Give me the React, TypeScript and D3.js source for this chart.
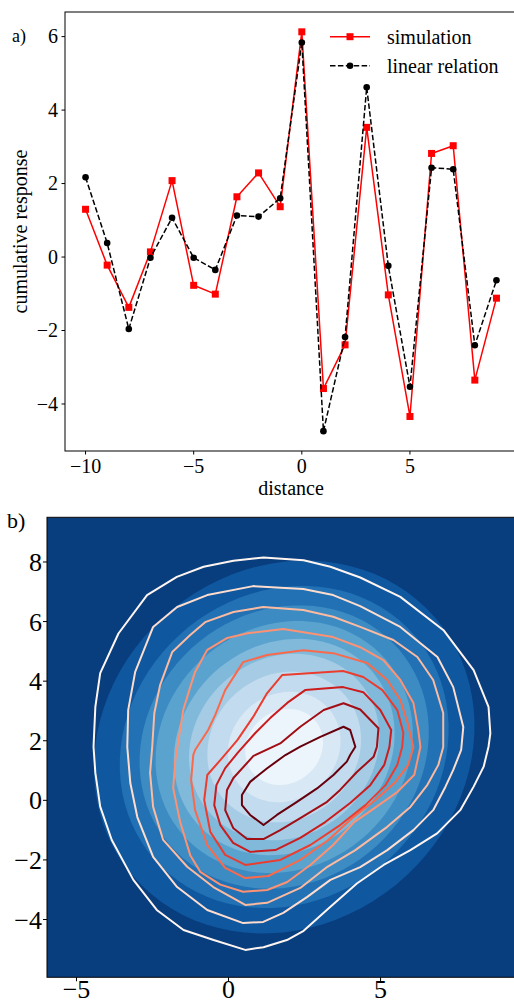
import React from "react";
import * as d3 from "d3";

const W = 514;
const H = 1003;
const serif = "'Liberation Serif', 'Times New Roman', serif";

// ---- panel a: cumulative response vs distance
const distance = [-10, -9, -8, -7, -6, -5, -4, -3, -2, -1, 0, 1, 2, 3, 4, 5, 6, 7, 8, 9];
const simulation = [1.3, -0.22, -1.37, 0.14, 2.08, -0.77, -1.01, 1.64, 2.29, 1.37, 6.13, -3.58, -2.39, 3.53, -1.03, -4.34, 2.82, 3.03, -3.35, -1.12];
const linearRelation = [2.17, 0.38, -1.96, -0.02, 1.07, -0.02, -0.35, 1.13, 1.1, 1.6, 5.84, -4.74, -2.18, 4.62, -0.24, -3.53, 2.43, 2.39, -2.4, -0.63];
const xTicksA = [-10, -5, 0, 5];
const yTicksA = [-4, -2, 0, 2, 4, 6];

// ---- panel b: filled density (ellipse levels) + line contours
const fillCenter = [1.83, 1.79];
const fillMajor = [6.6, 5.7, 5.0, 4.45, 3.85, 3.3, 2.65, 1.95, 1.35];
const fillMinor = [5.9, 5.1, 4.5, 4.0, 3.4, 2.95, 2.4, 1.75, 1.2];
const xTicksB = [-5, 0, 5];
const yTicksB = [-4, -2, 0, 2, 4, 6, 8];

const contour1 = [[1.15, 8.15], [2.47, 8.06], [3.35, 7.84], [4.33, 7.48], [5.65, 6.83], [7.07, 5.71], [8.06, 4.37], [8.55, 3.14], [8.61, 2.25], [8.55, 1.8], [8.39, 1.13], [8.06, 0.46], [7.62, -0.33], [6.86, -1.11], [5.98, -1.67], [5.1, -2.17], [4.22, -2.79], [3.35, -3.57], [2.47, -4.38], [1.92, -4.69], [1.15, -4.93], [0.55, -5.02], [-0.49, -4.69], [-1.48, -4.35], [-2.36, -3.68], [-3.13, -2.67], [-3.84, -1.33], [-4.22, -0.21], [-4.38, 0.92], [-4.44, 1.8], [-4.38, 3.14], [-4.22, 4.27], [-3.62, 5.6], [-2.68, 6.89], [-1.7, 7.5], [-0.82, 7.84], [0.16, 8.04]];
const contour2 = [[0.81, 7.19], [2.46, 7.09], [3.44, 6.89], [4.33, 6.52], [5.65, 5.82], [6.87, 4.81], [7.39, 3.8], [7.72, 2.46], [7.65, 1.69], [7.39, 1.02], [7.13, 0.45], [6.73, -0.33], [6.08, -1.0], [5.22, -1.67], [4.33, -2.24], [3.35, -2.67], [2.59, -3.24], [1.8, -3.78], [1.14, -4.08], [0.48, -4.12], [-0.7, -3.68], [-1.69, -2.91], [-2.48, -1.9], [-3.0, -0.56], [-3.23, 0.58], [-3.33, 1.79], [-3.3, 3.03], [-3.07, 4.31], [-2.48, 5.82], [-1.69, 6.49], [-0.7, 6.89]];
const contour3 = [[1.14, 6.49], [2.46, 6.39], [3.44, 6.16], [4.33, 5.82], [5.42, 5.38], [6.21, 4.81], [6.73, 4.04], [7.06, 2.93], [7.06, 1.79], [6.9, 1.19], [6.54, 0.52], [5.98, -0.22], [5.22, -0.89], [4.17, -1.67], [3.25, -2.23], [2.36, -2.94], [1.27, -3.44], [0.55, -3.51], [-0.5, -2.91], [-1.36, -2.23], [-2.15, -1.33], [-2.48, -0.22], [-2.58, 0.92], [-2.51, 1.79], [-2.44, 2.93], [-2.25, 3.87], [-1.85, 4.98], [-1.26, 5.55], [-0.77, 5.98], [0.16, 6.32]];
const contour4 = [[1.8, 5.75], [3.44, 5.48], [4.33, 5.14], [5.09, 4.71], [5.65, 4.04], [6.08, 3.27], [6.24, 2.36], [6.31, 1.79], [6.11, 0.86], [5.55, 0.28], [4.8, -0.26], [4.13, -0.73], [3.44, -1.5], [2.69, -2.17], [1.93, -2.74], [1.27, -3.01], [0.48, -3.07], [-0.27, -2.83], [-0.93, -2.4], [-1.26, -1.84], [-1.59, -0.73], [-1.82, 0.41], [-1.75, 1.35], [-1.62, 2.19], [-1.49, 3.03], [-1.26, 3.8], [-1.1, 4.31], [-0.7, 5.05], [-0.04, 5.45], [0.62, 5.61]];
const contour5 = [[2.46, 5.04], [3.44, 4.94], [4.56, 4.61], [5.22, 4.04], [5.65, 3.37], [5.88, 2.63], [6.08, 1.79], [5.91, 1.19], [5.48, 0.61], [4.83, 0.01], [4.07, -0.59], [3.28, -1.33], [2.36, -2.0], [1.31, -2.54], [0.55, -2.61], [-0.11, -2.27], [-0.7, -1.5], [-1.1, -0.33], [-1.23, 0.68], [-1.16, 1.52], [-1.1, 1.69], [-0.67, 2.36], [-0.44, 2.86], [-0.11, 3.7], [0.48, 4.64], [1.27, 4.88]];
const contour6 = [[1.77, 4.21], [3.77, 4.34], [4.43, 4.14], [5.06, 3.7], [5.55, 3.03], [5.75, 2.26], [5.71, 1.79], [5.55, 1.19], [5.16, 0.51], [4.5, -0.16], [3.67, -0.83], [2.69, -1.5], [1.7, -2.0], [0.55, -2.17], [-0.11, -1.83], [-0.6, -1.06], [-0.8, 0.01], [-0.7, 0.85], [-0.27, 1.35], [0.29, 2.02], [0.81, 2.8], [1.27, 3.6]];
const contour7 = [[2.52, 3.7], [3.77, 3.8], [4.43, 3.63], [4.99, 3.03], [5.35, 2.36], [5.29, 1.79], [5.12, 1.19], [4.66, 0.51], [4.0, -0.09], [3.18, -0.73], [2.36, -1.26], [1.54, -1.67], [0.71, -1.73], [0.15, -1.43], [-0.27, -0.83], [-0.47, -0.16], [-0.4, 0.51], [-0.11, 1.08], [0.32, 1.62], [0.88, 2.26], [1.37, 2.76], [1.93, 3.27]];
const contour8 = [[3.78, 3.26], [4.33, 3.05], [4.93, 2.42], [4.88, 1.8], [4.77, 1.46], [4.22, 0.95], [3.67, 0.35], [3.24, -0.05], [2.36, -0.6], [1.7, -1.0], [1.15, -1.3], [0.61, -1.3], [0.16, -0.94], [-0.11, -0.33], [-0.05, 0.35], [0.16, 0.75], [0.82, 1.49], [1.7, 1.91], [2.36, 2.47], [3.13, 3.03]];
const contour9 = [[3.78, 2.47], [4.0, 2.36], [4.17, 1.8], [4.0, 1.52], [3.89, 1.3], [3.45, 0.85], [2.91, 0.4], [2.25, -0.05], [1.59, -0.49], [1.15, -0.83], [0.71, -0.49], [0.44, -0.16], [0.44, 0.18], [0.71, 0.62], [1.26, 1.07], [1.87, 1.52], [2.36, 1.8], [3.02, 2.13]];
const contours = [contour1, contour2, contour3, contour4, contour5, contour6, contour7, contour8, contour9];

const fmt = (v: number) => (v < 0 ? "\u2212" + Math.abs(v) : String(v));

function PanelA() {
  const left = 65, right = 517, top = 12, bottom = 451;
  const x = d3.scaleLinear().domain([-10.95, 9.95]).range([left, right]);
  const y = d3.scaleLinear().domain([-5.28, 6.67]).range([bottom, top]);
  const line = (vals: number[]) =>
    d3.line<number>().x((d, i) => x(distance[i])).y((d) => y(d))(vals) || "";
  return (
    <g fontFamily={serif}>
      <text x={12} y={42} fontSize={18}>a)</text>
      <path d={line(simulation)} fill="none" stroke="#ff0000" strokeWidth={1.5} strokeLinejoin="round" />
      {simulation.map((v, i) => (
        <rect key={i} x={x(distance[i]) - 3.5} y={y(v) - 3.5} width={7} height={7} fill="#ff0000" />
      ))}
      <path d={line(linearRelation)} fill="none" stroke="#000" strokeWidth={1.5} strokeDasharray="5.5,2.4" strokeLinejoin="round" />
      {linearRelation.map((v, i) => (
        <circle key={i} cx={x(distance[i])} cy={y(v)} r={3.3} fill="#000" />
      ))}
      <rect x={left} y={top} width={right - left} height={bottom - top} fill="none" stroke="#000" strokeWidth={1} />
      {xTicksA.map((t) => (
        <g key={t}>
          <line x1={x(t)} x2={x(t)} y1={bottom} y2={bottom + 3.5} stroke="#000" />
          <text x={x(t)} y={473} fontSize={20} textAnchor="middle">{fmt(t)}</text>
        </g>
      ))}
      {yTicksA.map((t) => (
        <g key={t}>
          <line x1={left - 3.5} x2={left} y1={y(t)} y2={y(t)} stroke="#000" />
          <text x={58} y={y(t) + 6.8} fontSize={20} textAnchor="end">{fmt(t)}</text>
        </g>
      ))}
      <text x={(left + right) / 2} y={495} fontSize={20} textAnchor="middle">distance</text>
      <text transform={`translate(27,${(top + bottom) / 2}) rotate(-90)`} fontSize={20} textAnchor="middle">cumulative response</text>
      {/* legend */}
      <line x1={330} x2={370} y1={36.7} y2={36.7} stroke="#ff0000" strokeWidth={1.5} />
      <rect x={346.5} y={33.2} width={7} height={7} fill="#ff0000" />
      <text x={387} y={44} fontSize={20}>simulation</text>
      <line x1={330} x2={370} y1={65.7} y2={65.7} stroke="#000" strokeWidth={1.5} strokeDasharray="5.5,2.4" />
      <circle cx={350} cy={65.7} r={3.3} fill="#000" />
      <text x={387} y={73} fontSize={20}>linear relation</text>
    </g>
  );
}

function PanelB() {
  const left = 47, right = 516.5, top = 517.3, bottom = 977.3;
  const x = d3.scaleLinear().domain([-5.97, 9.47]).range([left, right]);
  const y = d3.scaleLinear().domain([-5.94, 9.5]).range([bottom, top]);
  const closed = d3.line<number[]>().x((d) => x(d[0])).y((d) => y(d[1])).curve(d3.curveLinearClosed);
  const angles = d3.range(0, 360, 4).map((a) => (a * Math.PI) / 180);
  const ellipse = (a: number, b: number) =>
    closed(
      angles.map((t) => {
        const u = a * Math.cos(t), v = b * Math.sin(t);
        return [fillCenter[0] + (u - v) / Math.SQRT2, fillCenter[1] + (u + v) / Math.SQRT2];
      })
    ) || "";
  return (
    <g fontFamily={serif}>
      <defs>
        <clipPath id="clipB">
          <rect x={left} y={top} width={right - left} height={bottom - top} />
        </clipPath>
      </defs>
      <text x={7} y={528} fontSize={22}>b)</text>
      <g clipPath="url(#clipB)">
        <rect x={left} y={top} width={right - left} height={bottom - top} fill={d3.interpolateBlues(0.95)} />
        {fillMajor.map((a, i) => (
          <path key={i} d={ellipse(a, fillMinor[i])} fill={d3.interpolateBlues(0.85 - 0.1 * i)} />
        ))}
        {contours.map((c, i) => (
          <path key={i} d={closed(c) || ""} fill="none" stroke={d3.interpolateReds(i / 8)} strokeWidth={2} strokeLinejoin="round" />
        ))}
      </g>
      <rect x={left} y={top} width={right - left} height={bottom - top} fill="none" stroke="#000" strokeWidth={1} />
      {xTicksB.map((t) => (
        <g key={t}>
          <line x1={x(t)} x2={x(t)} y1={bottom} y2={bottom + 4} stroke="#000" />
          <text x={x(t)} y={998} fontSize={26} textAnchor="middle">{fmt(t)}</text>
        </g>
      ))}
      {yTicksB.map((t) => (
        <g key={t}>
          <line x1={left - 4} x2={left} y1={y(t)} y2={y(t)} stroke="#000" />
          <text x={42} y={y(t) + 9} fontSize={26} textAnchor="end">{fmt(t)}</text>
        </g>
      ))}
    </g>
  );
}

export default function App() {
  return (
    <svg width={W} height={H} style={{ position: "absolute", left: 0, top: 0, background: "#fff" }}>
      <PanelA />
      <PanelB />
    </svg>
  );
}
